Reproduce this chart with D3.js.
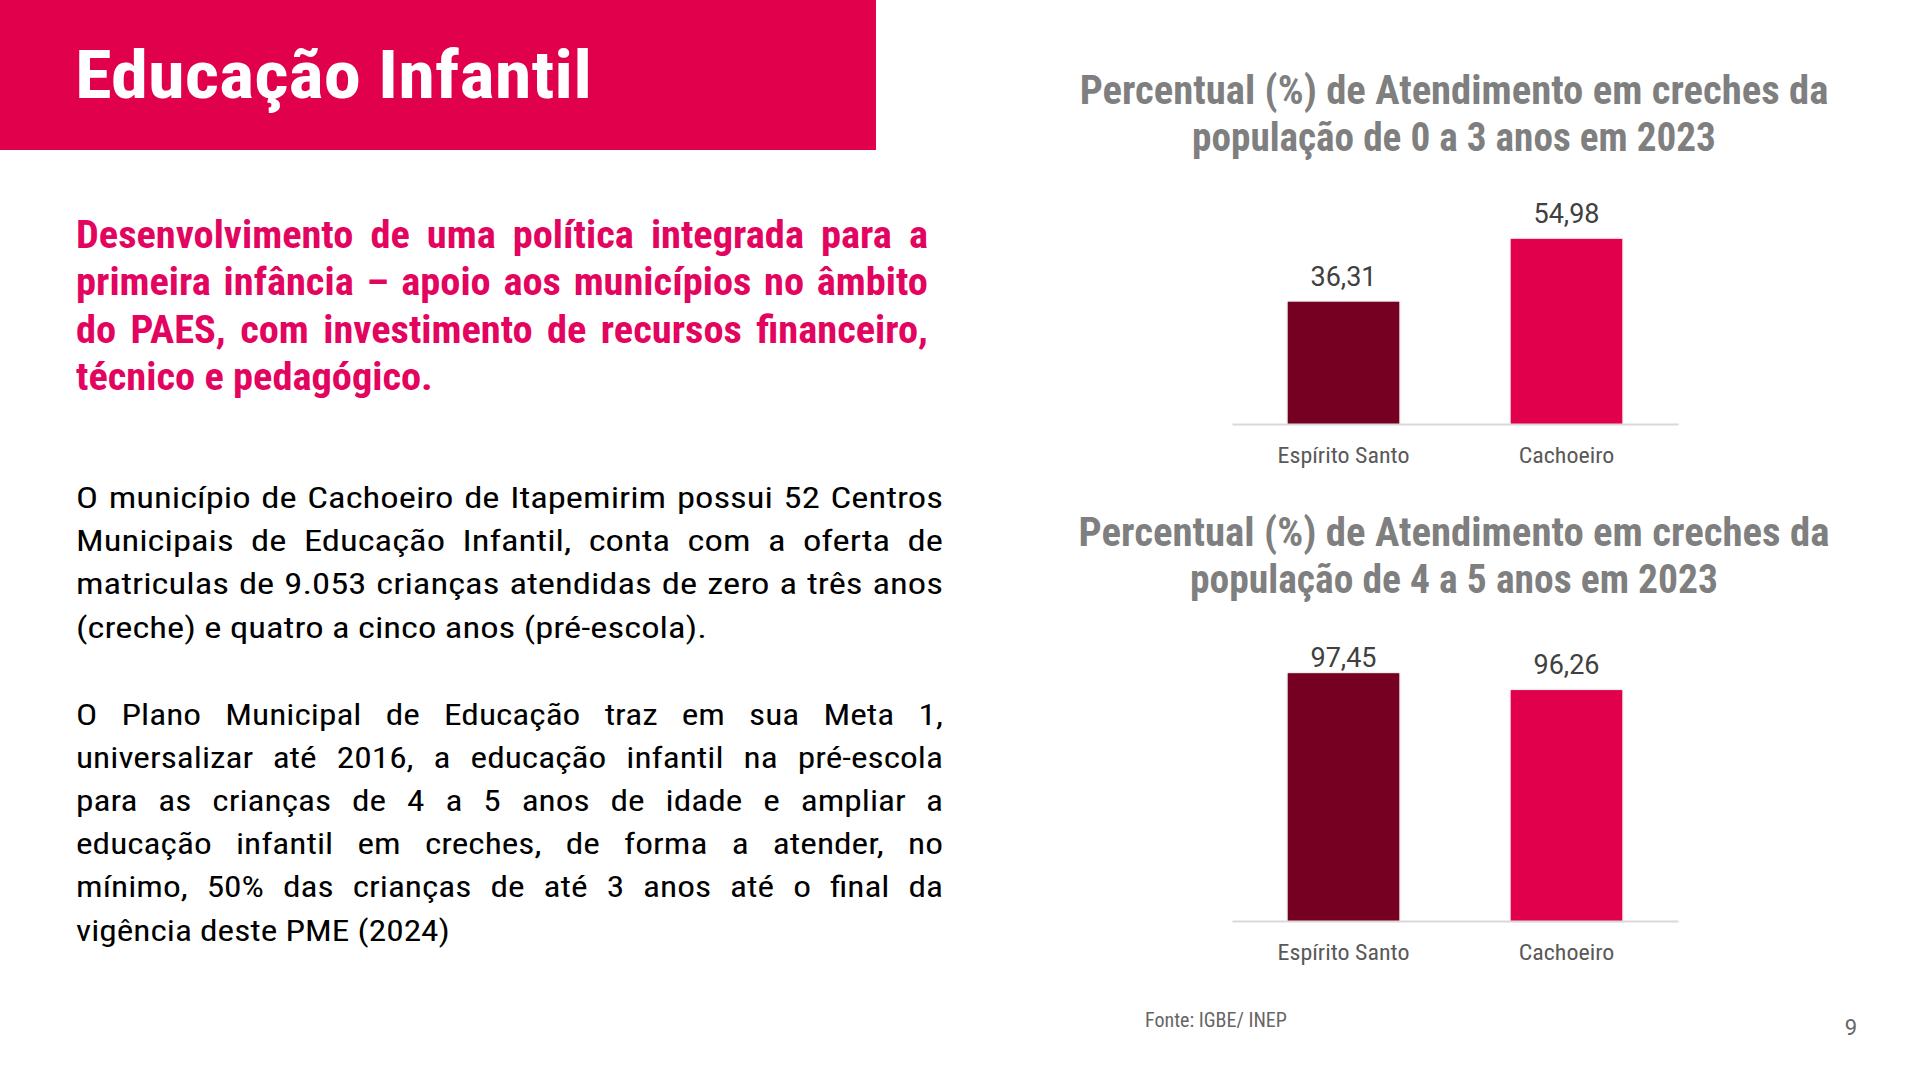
<!DOCTYPE html>
<html lang="pt-BR">
<head>
<meta charset="utf-8">
<title>Educação Infantil</title>
<script src="https://cdn.jsdelivr.net/npm/d3@7"></script>
<style>
  html, body { margin: 0; padding: 0; background: #fff; }
  svg { display: block; }
</style>
</head>
<body>
<div id="slide"></div>
<script>
// ---- data ----
const categories = ['Espírito Santo', 'Cachoeiro'];
const creche0a3 = [36.31, 54.98];
const preEscola4a5 = [97.45, 96.26];

const chartTitles = [
  ['Percentual (%) de Atendimento em creches da', 'população de 0 a 3 anos em 2023'],
  ['Percentual (%) de Atendimento em creches da', 'população de 4 a 5 anos em 2023']
];

const pageTitle = 'Educação Infantil';
const pinkLines = [
  'Desenvolvimento de uma política integrada para a',
  'primeira infância – apoio aos municípios no âmbito',
  'do PAES, com investimento de recursos financeiro,',
  'técnico e pedagógico.'
];
const para1Lines = [
  'O município de Cachoeiro de Itapemirim possui 52 Centros',
  'Municipais de Educação Infantil, conta com a oferta de',
  'matriculas de 9.053 crianças atendidas de zero a três anos',
  '(creche) e quatro a cinco anos (pré-escola).'
];
const para2Lines = [
  'O Plano Municipal de Educação traz em sua Meta 1,',
  'universalizar até 2016, a educação infantil na pré-escola',
  'para as crianças de 4 a 5 anos de idade e ampliar a',
  'educação infantil em creches, de forma a atender, no',
  'mínimo, 50% das crianças de até 3 anos até o final da',
  'vigência deste PME (2024)'
];
const sourceText = 'Fonte: IGBE/ INEP';
const pageNumber = '9';

// ---- page ----
const W = 1920, H = 1080;
const NARROW = "'Liberation Sans Narrow', 'Roboto Condensed', 'Arial Narrow', 'DejaVu Sans Condensed', Roboto, sans-serif";
const PINK = '#E1004B';

const svg = d3.select('#slide')
              .append('svg')
              .attr('width', W)
              .attr('height', H)

const defs = svg.append('defs')
defs.append('filter')
    .attr('id', 'soft')
    .attr('x', '-10%').attr('y', '-10%').attr('width', '120%').attr('height', '120%')
    .append('feDropShadow')
    .attr('dx', 0).attr('dy', 0)
    .attr('stdDeviation', 1.2)
    .attr('flood-color', '#000')
    .attr('flood-opacity', 0.25)

// squeeze factor so the installed font takes the width of the slide's condensed face
const squeeze = (sel, target) => target / sel.node().getComputedTextLength();

// header band
svg.append('rect')
   .attr('x', 0).attr('y', 0)
   .attr('width', 876).attr('height', 150)
   .attr('fill', PINK)

const title = svg.append('text')
                 .attr('font-family', NARROW)
                 .attr('font-weight', 700)
                 .attr('font-size', 67)
                 .attr('fill', '#fff')
                 .text(pageTitle)
const tSx = squeeze(title, 517)
title.attr('transform', `translate(75,98) scale(${tSx},1)`)

// justified paragraph, last line left aligned
function paragraph(lines, o) {
  const g = svg.append('g')
               .attr('font-family', NARROW)
               .attr('font-weight', o.weight)
               .attr('font-size', o.size)
               .attr('fill', o.fill)
  const probe = g.append('text').text(lines[lines.length - 1])
  const sx = squeeze(probe, o.lastWidth)
  probe.remove()

  lines.forEach((line, i) => {
    const t = g.append('text')
    const base = o.y + i * o.lineH
    if (i === lines.length - 1) {
      t.attr('transform', `translate(${o.x},${base}) scale(${sx},1)`).text(line)
      return
    }
    const words = line.split(' ')
    const spans = words.map(w => t.append('tspan').text(w))
    const widths = spans.map(s => s.node().getComputedTextLength())
    const total = d3.sum(widths)
    let lsx = sx
    let gap = (o.width / lsx - total) / (words.length - 1)
    const minGap = o.size * 0.18
    if (gap < minGap) {
      lsx = o.width / (total + minGap * (words.length - 1))
      gap = minGap
    }
    t.attr('transform', `translate(${o.x},${base}) scale(${lsx},1)`)
    let cx = 0
    spans.forEach((s, j) => { s.attr('x', cx); cx += widths[j] + gap })
  })
}

paragraph(pinkLines, { x: 76, y: 248, lineH: 47.3, width: 852, size: 39, weight: 700, fill: '#E2045E', lastWidth: 357 })
paragraph(para1Lines, { x: 76, y: 508, lineH: 43.2, width: 867, size: 29.5, weight: 400, fill: '#000', lastWidth: 631 })
paragraph(para2Lines, { x: 76, y: 725, lineH: 43.1, width: 867, size: 29.5, weight: 400, fill: '#000', lastWidth: 374 })

// ---- charts ----
const xScale = d3.scaleBand()
                 .domain(categories)
                 .range([1232, 1678])
                 .paddingInner(0.5)
                 .paddingOuter(0.25)

const barColor = d3.scaleOrdinal()
                   .domain(categories)
                   .range(['#760021', '#E1004B'])

const fmt = d3.formatLocale({ decimal: ',', thousands: '.', grouping: [3], currency: ['R$', ''] }).format('.2f')

function barChart(cfg) {
  const g = svg.append('g')

  const yScale = d3.scaleLinear()
                   .domain(cfg.domain)
                   .range([cfg.axisY, cfg.axisY - cfg.rangeH])

  const data = categories.map((c, i) => ({ c, v: cfg.values[i] }))

  // title, each line squeezed to the width it takes on the slide
  const tg = g.append('g')
              .attr('font-family', NARROW)
              .attr('font-weight', 700)
              .attr('font-size', 41)
              .attr('fill', '#7F7F7F')
              .attr('text-anchor', 'middle')
  tg.selectAll('text')
    .data(cfg.title)
    .join('text')
    .text(d => d)
    .each(function (d, i) {
      const t = d3.select(this)
      const sx = squeeze(t, cfg.titleWidths[i])
      t.attr('transform', `translate(1454,${cfg.titleY + i * 47}) scale(${sx},1)`)
    })

  // bars
  g.selectAll('rect.bar')
   .data(data)
   .join('rect')
   .attr('class', 'bar')
   .attr('x', d => xScale(d.c))
   .attr('y', d => yScale(d.v))
   .attr('width', xScale.bandwidth())
   .attr('height', d => cfg.axisY - yScale(d.v))
   .attr('fill', d => barColor(d.c))
   .attr('filter', 'url(#soft)')

  // category axis
  const axis = g.append('g')
                .attr('transform', `translate(0,${cfg.axisY})`)
                .call(d3.axisBottom(xScale).tickSize(0).tickSizeOuter(0).tickPadding(23.5))
  axis.select('.domain')
      .attr('stroke', '#D9D9D9')
      .attr('stroke-width', 2)
  const ticks = axis.selectAll('text')
                    .attr('font-family', NARROW)
                    .attr('font-size', 22)
                    .attr('fill', '#595959')
  const csx = squeeze(d3.select(ticks.nodes()[0]), 132)
  ticks.attr('transform', `scale(${csx},1)`)

  // value labels
  g.selectAll('text.value')
   .data(data)
   .join('text')
   .attr('class', 'value')
   .attr('x', d => xScale(d.c) + xScale.bandwidth() / 2)
   .attr('y', d => Math.max(yScale(d.v) - 16, cfg.labelTop))
   .attr('text-anchor', 'middle')
   .attr('font-family', "Roboto, 'Liberation Sans', sans-serif")
   .attr('font-size', 27)
   .attr('fill', '#404040')
   .text(d => fmt(d.v))
}

barChart({ values: creche0a3, title: chartTitles[0], titleWidths: [749, 524], titleY: 104, axisY: 424, domain: [0, 60], rangeH: 202, labelTop: 0 })
barChart({ values: preEscola4a5, title: chartTitles[1], titleWidths: [751, 528], titleY: 546, axisY: 921, domain: [80, 100], rangeH: 284, labelTop: 667 })

// footer
const src = svg.append('text')
               .attr('font-family', NARROW)
               .attr('font-size', 19.5)
               .attr('fill', '#666')
               .text(sourceText)
src.attr('transform', `translate(1145,1027) scale(${squeeze(src, 142)},1)`)

svg.append('text')
   .attr('x', 1851)
   .attr('y', 1035)
   .attr('text-anchor', 'middle')
   .attr('font-family', "Roboto, 'Liberation Sans', sans-serif")
   .attr('font-size', 22)
   .attr('fill', '#666')
   .text(pageNumber)
</script>
</body>
</html>
